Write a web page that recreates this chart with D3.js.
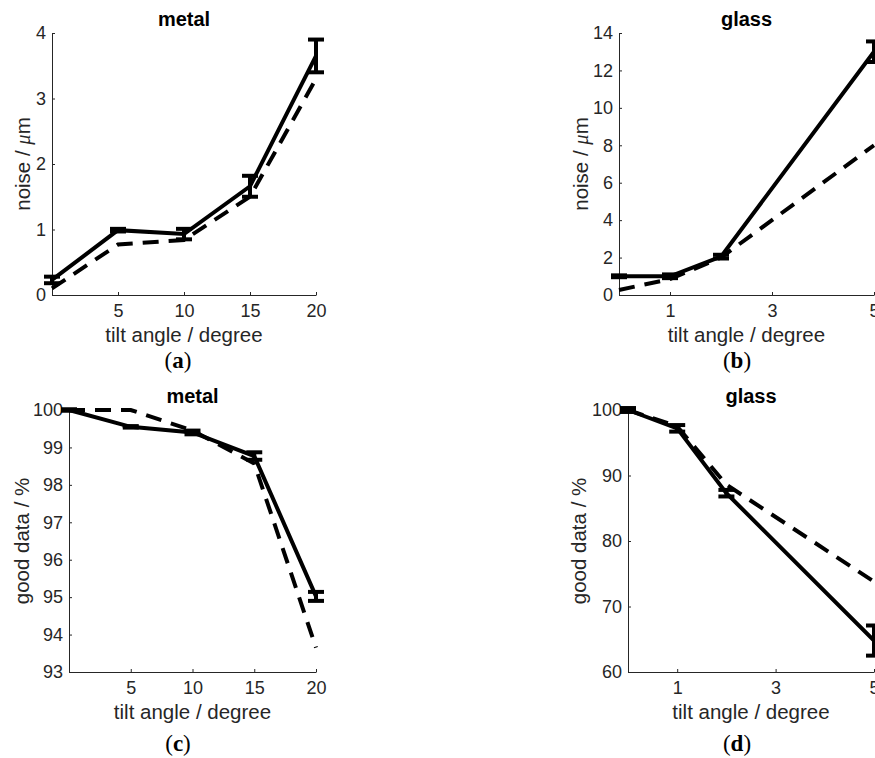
<!DOCTYPE html>
<html>
<head>
<meta charset="utf-8">
<script src="https://cdn.jsdelivr.net/npm/d3@7"></script>
<style>
  body { margin: 0; background: #fff; }
  .axis path, .axis line { stroke: #262626; stroke-width: 1; }
  .axis text { font-family: "Liberation Sans", Arial, sans-serif; font-size: 18px; fill: #262626; }
  .label { font-family: "Liberation Sans", Arial, sans-serif; font-size: 20.5px; fill: #262626; }
  .title { font-family: "Liberation Sans", Arial, sans-serif; font-size: 20px; font-weight: bold; fill: #000; }
  .caption { font-family: "Liberation Serif", "Times New Roman", serif; font-size: 23px; fill: #000; }
</style>
</head>
<body>
<script>
//data
var tiltMetal = [0, 5, 10, 15, 20];
var tiltGlass = [0, 1, 2, 5];

//noise (um), solid = measured with error bars, dashed = second series
var noiseMetal = [0.23, 0.99, 0.93, 1.66, 3.65];
var noiseMetalErr = [0.05, 0.02, 0.08, 0.16, 0.25];
var noiseMetalDash = [0.1, 0.77, 0.84, 1.5, 3.3];

var noiseGlass = [1.0, 1.0, 2.05, 13.0];
var noiseGlassErr = [0.05, 0.1, 0.1, 0.55];
var noiseGlassDash = [0.27, 0.85, 2.0, 8.0];

//good data (%)
var goodMetal = [100, 99.55, 99.4, 98.77, 95.02];
var goodMetalErr = [0.02, 0.02, 0.05, 0.1, 0.12];
var goodMetalDash = [100, 100, 99.45, 98.57, 93.65];

var goodGlass = [100, 97.2, 87.3, 64.8];
var goodGlassErr = [0.3, 0.5, 0.5, 2.3];
var goodGlassDash = [100, 97.5, 88.6, 73.8];

var metalTicks = [5, 10, 15, 20];
var glassTicks = [1, 3, 5];

var width = 875,
    height = 758;

var svg = d3.select("body")
    .append("svg")
    .attr("width", width)
    .attr("height", height);

//one panel per call
function drawPanel(p){
    var x = d3.scaleLinear().domain(p.xDomain).range([p.left, p.right]);
    var y = d3.scaleLinear().domain(p.yDomain).range([p.bottom, p.top]);
    var g = svg.append("g");

    //axes, ticks pointing inward like matlab
    g.append("g")
        .attr("class", "axis")
        .attr("transform", "translate(0," + p.bottom + ")")
        .call(d3.axisBottom(x).tickValues(p.xTicks).tickFormat(d3.format("d"))
            .tickSizeInner(-3).tickSizeOuter(0).tickPadding(9));
    g.append("g")
        .attr("class", "axis")
        .attr("transform", "translate(" + p.left + ",0)")
        .call(d3.axisLeft(y).tickValues(p.yTicks).tickFormat(d3.format("d"))
            .tickSizeInner(-3).tickSizeOuter(0).tickPadding(6));

    var pts = p.xs.map(function(d, i){ return {x: d, y: p.solid[i], e: p.err[i], yd: p.dashed[i]}; });

    var line = d3.line().x(function(d){ return x(d.x); }).y(function(d){ return y(d.y); });
    var dline = d3.line().x(function(d){ return x(d.x); }).y(function(d){ return y(d.yd); });

    g.append("path")
        .datum(pts)
        .attr("d", dline)
        .attr("fill", "none")
        .attr("stroke", "#000")
        .attr("stroke-width", 4)
        .attr("stroke-dasharray", "16,10");

    g.append("path")
        .datum(pts)
        .attr("d", line)
        .attr("fill", "none")
        .attr("stroke", "#000")
        .attr("stroke-width", 4);

    //error bars
    var eb = g.selectAll(".eb")
        .data(pts)
        .enter()
        .append("g")
        .attr("class", "eb");
    eb.append("line")
        .attr("x1", function(d){ return x(d.x); })
        .attr("x2", function(d){ return x(d.x); })
        .attr("y1", function(d){ return y(d.y - d.e); })
        .attr("y2", function(d){ return y(d.y + d.e); })
        .attr("stroke", "#000").attr("stroke-width", 4);
    [-1, 1].forEach(function(s){
        eb.append("line")
            .attr("x1", function(d){ return x(d.x) - 8; })
            .attr("x2", function(d){ return x(d.x) + 8; })
            .attr("y1", function(d){ return y(d.y + s * d.e); })
            .attr("y2", function(d){ return y(d.y + s * d.e); })
            .attr("stroke", "#000").attr("stroke-width", 4);
    });

    //title
    g.append("text")
        .attr("class", "title")
        .attr("x", (p.left + p.right) / 2)
        .attr("y", p.top - 7)
        .attr("text-anchor", "middle")
        .text(p.title);

    //x label
    g.append("text")
        .attr("class", "label")
        .attr("x", (p.left + p.right) / 2)
        .attr("y", p.bottom + 47)
        .attr("text-anchor", "middle")
        .text("tilt angle / degree");

    //y label
    var yl = g.append("text")
        .attr("class", "label")
        .attr("text-anchor", "middle")
        .attr("transform", "translate(" + p.ylabelX + "," + (p.top + p.bottom) / 2 + ") rotate(-90)");
    if (p.micro) {
        yl.append("tspan").text("noise / ");
        yl.append("tspan").attr("font-style", "italic").attr("font-family", "Liberation Serif, serif").text("\u03bc");
        yl.append("tspan").text("m");
    } else {
        yl.text("good data / %");
    }

    //caption (a) etc
    var cap = g.append("text")
        .attr("class", "caption")
        .attr("x", p.capX)
        .attr("y", p.capY)
        .attr("text-anchor", "middle");
    cap.append("tspan").text("(");
    cap.append("tspan").attr("font-weight", "bold").text(p.cap);
    cap.append("tspan").text(")");
}

drawPanel({
    xDomain: [0, 20], yDomain: [0, 4], left: 52, right: 316, top: 33, bottom: 295,
    xTicks: metalTicks, yTicks: [0, 1, 2, 3, 4],
    xs: tiltMetal, solid: noiseMetal, err: noiseMetalErr, dashed: noiseMetalDash,
    title: "metal", micro: true, ylabelX: 30, cap: "a", capX: 178, capY: 368
});
drawPanel({
    xDomain: [0, 5], yDomain: [0, 14], left: 619, right: 874, top: 33, bottom: 295,
    xTicks: glassTicks, yTicks: [0, 2, 4, 6, 8, 10, 12, 14],
    xs: tiltGlass, solid: noiseGlass, err: noiseGlassErr, dashed: noiseGlassDash,
    title: "glass", micro: true, ylabelX: 588, cap: "b", capX: 737, capY: 368
});
drawPanel({
    xDomain: [0, 20], yDomain: [93, 100], left: 69, right: 316, top: 410, bottom: 672,
    xTicks: metalTicks, yTicks: [93, 94, 95, 96, 97, 98, 99, 100],
    xs: tiltMetal, solid: goodMetal, err: goodMetalErr, dashed: goodMetalDash,
    title: "metal", micro: false, ylabelX: 29, cap: "c", capX: 178, capY: 751
});
drawPanel({
    xDomain: [0, 5], yDomain: [60, 100], left: 628, right: 874, top: 410, bottom: 672,
    xTicks: glassTicks, yTicks: [60, 70, 80, 90, 100],
    xs: tiltGlass, solid: goodGlass, err: goodGlassErr, dashed: goodGlassDash,
    title: "glass", micro: false, ylabelX: 586, cap: "d", capX: 737, capY: 751
});
</script>
</body>
</html>
